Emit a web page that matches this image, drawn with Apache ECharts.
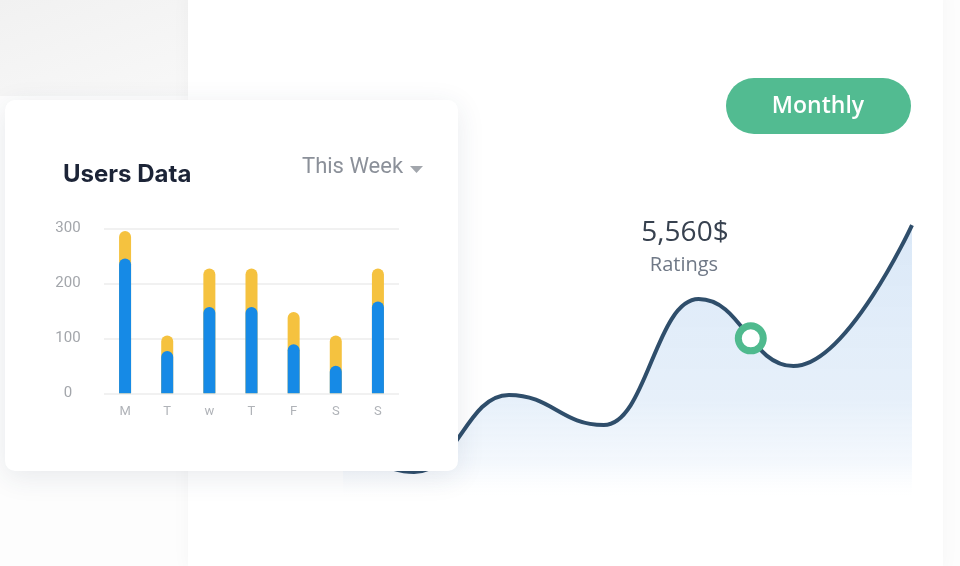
<!DOCTYPE html>
<html><head><meta charset="utf-8">
<script src="https://cdn.jsdelivr.net/npm/echarts@6/dist/echarts.min.js"></script>
<style>
html,body{margin:0;padding:0;width:960px;height:566px;overflow:hidden;background:#fdfdfd;}
#bgLeft{position:absolute;left:0;top:0;width:190px;height:96px;background:linear-gradient(160deg,#f1f1f1,#f8f8f8);}
#bgCard{position:absolute;left:188px;top:-10px;width:755px;height:580px;background:#fff;box-shadow:0 0 18px rgba(0,0,0,0.035);}
#line{position:absolute;left:0;top:0;width:960px;height:566px;}
#card{position:absolute;left:5px;top:100px;width:453px;height:371px;background:#fff;border-radius:10px;box-shadow:0 6px 28px rgba(40,60,90,0.10);}
#bar{width:453px;height:371px;}
</style></head>
<body>
<div id="bgLeft"></div>
<div id="bgCard"></div>
<div id="line"></div>
<div id="card"><div id="bar"></div></div>
<script>
// ---- Users Data (bar card) ----
const days = ['M', 'T', 'w', 'T', 'F', 'S', 'S'];
const totalUsers = [295, 105, 227, 227, 148, 105, 227];
const activeUsers = [245, 77, 157, 157, 89, 50, 167];
const userAxisMax = 300;
const userAxisStep = 100;

// ---- Ratings (line) ----
const ratingSteps = [0, 3, 7, 11, 15, 19, 24];
const ratingValues = [17, 7.8, 33.9, 23.7, 66.4, 43.7, 91.5];
const highlightPoint = [17.2, 53.1];
const ratingsValueText = '5,560$';
const ratingsLabel = 'Ratings';
const periodLabel = 'Monthly';

const lineChart = echarts.init(document.getElementById('line'));
lineChart.setOption({
  animation: false,
  grid: { left: 343, right: 48, top: 200, bottom: 71 },
  xAxis: { type: 'value', min: 0, max: 24, show: false },
  yAxis: { type: 'value', min: 0, max: 100, show: false },
  series: [
    {
      type: 'line',
      data: ratingSteps.map((s, i) => [s, ratingValues[i]]),
      smooth: 0.45,
      smoothMonotone: 'x',
      showSymbol: false,
      z: 2,
      lineStyle: { color: '#2f4e6b', width: 4 },
      areaStyle: {
        color: new echarts.graphic.LinearGradient(0, 0, 0, 1, [
          { offset: 0, color: 'rgba(200,221,244,0.95)' },
          { offset: 0.65, color: 'rgba(216,231,247,0.9)' },
          { offset: 0.88, color: 'rgba(228,238,250,0.6)' },
          { offset: 1, color: 'rgba(240,246,252,0)' }
        ])
      }
    },
    {
      type: 'scatter',
      data: [highlightPoint],
      symbol: 'circle',
      symbolSize: 25,
      z: 5,
      itemStyle: { color: '#ffffff', borderColor: '#4fba8e', borderWidth: 7, opacity: 1 }
    }
  ],
  graphic: [
    { type: 'rect', z: 10, shape: { x: 726, y: 78, width: 185, height: 56, r: 28 }, style: { fill: '#52bb91' } },
    { type: 'text', z: 11, x: 818, y: 106, style: { text: periodLabel, fill: '#ffffff', font: '600 23px "Open Sans"', textAlign: 'center', textVerticalAlign: 'middle', align: 'center', verticalAlign: 'middle' } },
    { type: 'text', z: 11, x: 685, y: 233, style: { text: ratingsValueText, fill: '#37414f', font: '500 28px "Open Sans"', textAlign: 'center', textVerticalAlign: 'middle', align: 'center', verticalAlign: 'middle' } },
    { type: 'text', z: 11, x: 684, y: 265, style: { text: ratingsLabel, fill: '#6f7886', font: '500 20px "Open Sans"', textAlign: 'center', textVerticalAlign: 'middle', align: 'center', verticalAlign: 'middle' } }
  ]
});

const barChart = echarts.init(document.getElementById('bar'));
barChart.setOption({
  animation: false,
  grid: { left: 99, width: 295, top: 128.3, bottom: 77.7 },
  xAxis: {
    type: 'category', data: days,
    axisLine: { show: false }, axisTick: { show: false },
    axisLabel: { color: '#b0b3b8', fontSize: 13, fontFamily: 'Roboto', margin: 12 }
  },
  yAxis: {
    type: 'value', min: 0, max: userAxisMax, interval: userAxisStep,
    axisLine: { show: false }, axisTick: { show: false },
    axisLabel: { color: '#a3a6ab', fontSize: 15, fontFamily: 'Roboto', margin: 36, align: 'center' },
    splitLine: { lineStyle: { color: '#ececec', width: 1.5 } }
  },
  series: [
    { type: 'bar', data: totalUsers, barWidth: 12, barGap: '-100%', itemStyle: { color: '#f5c23f', borderRadius: [6, 6, 0, 0] } },
    { type: 'bar', data: activeUsers, barWidth: 12, barGap: '-100%', itemStyle: { color: '#168ae6', borderRadius: [6, 6, 0, 0] } }
  ],
  graphic: [
    { type: 'text', x: 58, y: 75, style: { text: 'Users Data', fill: '#1c2437', font: 'bold 24px Inter', textVerticalAlign: 'middle', verticalAlign: 'middle' } },
    { type: 'text', x: 297, y: 67, style: { text: 'This Week', fill: '#8b9099', font: '22px Roboto', textVerticalAlign: 'middle', verticalAlign: 'middle' } },
    { type: 'polygon', shape: { points: [[405, 66], [418, 66], [411.5, 73]] }, style: { fill: '#a2a6ac' } }
  ]
});
</script>
</body></html>
